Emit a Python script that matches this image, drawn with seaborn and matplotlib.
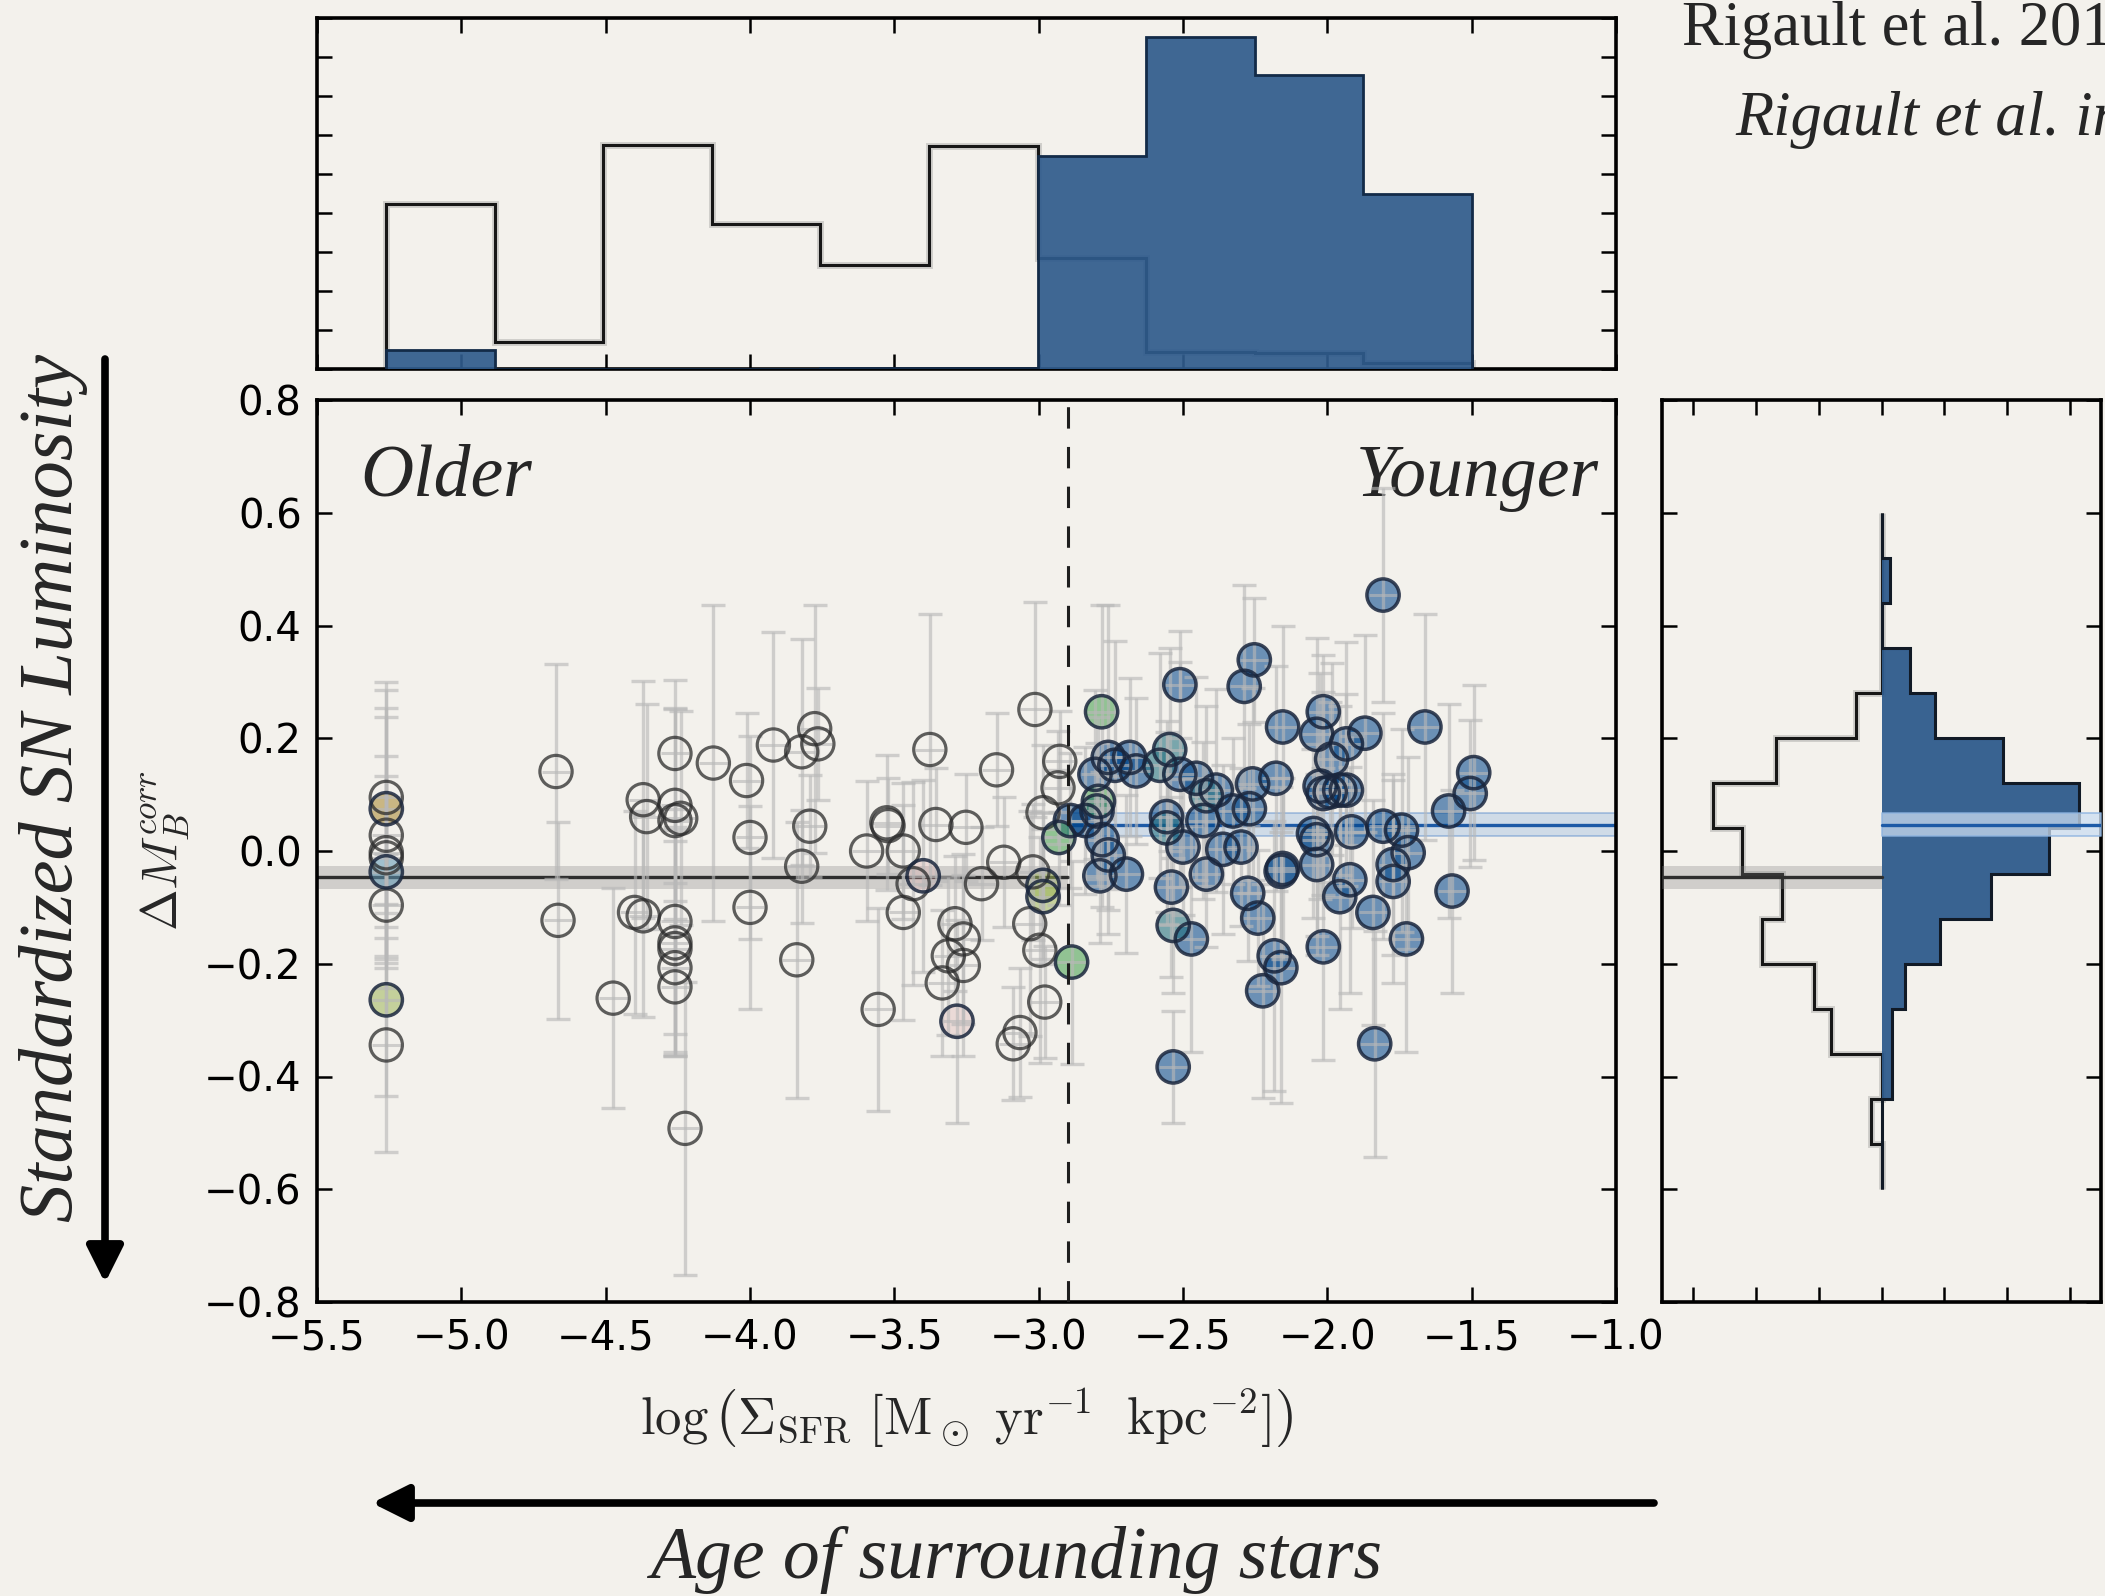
import numpy as np
import pandas as pd
import matplotlib
matplotlib.use("Agg")
import matplotlib.pyplot as plt
import matplotlib.patheffects as pe
from matplotlib.patches import FancyArrowPatch
import seaborn as sns

# ---------------------------------------------------------------- data
# local star-formation surface density (log) of each SN Ia host region
sfr = [
    -5.26, -5.26, -5.26, -5.26, -5.26, -5.26, -5.26, -5.26, -5.26,
    -4.672, -4.665, -4.474, -4.370, -4.358, -4.40, -4.37,
    -4.26, -4.26, -4.24, -4.26, -4.26, -4.26, -4.26, -4.26, -4.26,
    -4.225, -4.127, -4.012, -4.00, -4.00, -3.919, -3.821, -3.776, -3.765,
    -3.793, -3.821, -3.838, -3.596, -3.526, -3.522, -3.469, -3.435, -3.40,
    -3.469, -3.556, -3.377, -3.356, -3.252, -3.29, -3.261, -3.313, -3.261,
    -3.334, -3.283, -3.198, -3.146, -3.121, -3.013, -2.927, -2.933, -2.985,
    -3.02, -2.985, -2.985, -3.031, -2.996, -2.979, -3.065, -3.088, -2.93,
    -2.886,
    # star-forming side
    -2.782, -2.759, -2.736, -2.685, -2.662, -2.805, -2.793, -2.89, -2.838,
    -2.798, -2.78, -2.759, -2.788, -2.696, -2.58, -2.546, -2.511, -2.557,
    -2.557, -2.50, -2.54, -2.534, -2.471, -2.534, -2.511, -2.454, -2.419,
    -2.385, -2.431, -2.419, -2.362, -2.327, -2.299, -2.288, -2.253, -2.259,
    -2.27, -2.276, -2.241, -2.178, -2.155, -2.155, -2.16, -2.184, -2.161,
    -2.224, -2.014, -2.037, -1.985, -2.025, -2.014, -1.99, -2.048, -2.037,
    -2.037, -2.014, -1.807, -1.870, -1.934, -1.957, -1.934, -1.916, -1.922,
    -1.957, -1.842, -1.807, -1.743, -1.72, -1.772, -1.772, -1.726, -1.836,
    -1.662, -1.58, -1.505, -1.493, -1.568,
]

# Hubble residual after standardisation
dm = [
    0.095, 0.075, 0.028, -0.003, -0.012, -0.037, -0.096, -0.264, -0.344,
    0.141, -0.123, -0.261, 0.091, 0.061, -0.109, -0.115,
    0.173, 0.081, 0.058, 0.054, -0.125, -0.163, -0.173, -0.207, -0.241,
    -0.492, 0.156, 0.125, 0.024, -0.10, 0.188, 0.176, 0.217, 0.19,
    0.044, -0.027, -0.193, 0.0, 0.05, 0.045, 0.0, -0.058, -0.044,
    -0.109, -0.281, 0.18, 0.047, 0.042, -0.129, -0.156, -0.186, -0.203,
    -0.234, -0.302, -0.058, 0.144, -0.02, 0.251, 0.159, 0.112, 0.068,
    -0.037, -0.061, -0.081, -0.129, -0.176, -0.268, -0.322, -0.342, 0.024,
    -0.197,
    0.247, 0.166, 0.152, 0.166, 0.142, 0.136, 0.088, 0.054, 0.054,
    0.071, 0.02, -0.007, -0.044, -0.041, 0.152, 0.18, 0.295, 0.061,
    0.041, 0.007, -0.064, -0.132, -0.156, -0.383, 0.136, 0.129, 0.098,
    0.108, 0.054, -0.041, 0.003, 0.071, 0.007, 0.292, 0.339, 0.119,
    0.075, -0.075, -0.119, 0.129, 0.22, -0.031, -0.036, -0.186, -0.207,
    -0.248, 0.247, 0.207, 0.163, 0.115, 0.102, 0.105, 0.031, 0.02,
    -0.024, -0.17, 0.454, 0.209, 0.19, 0.108, 0.108, 0.034, -0.051,
    -0.081, -0.109, 0.044, 0.037, -0.003, -0.024, -0.054, -0.156, -0.342,
    0.22, 0.071, 0.102, 0.139, -0.071,
]

dm_err = [
    0.205, 0.21, 0.226, 0.24, 0.18, 0.17, 0.09, 0.17, 0.19,
    0.19, 0.175, 0.195, 0.21, 0.20, 0.18, 0.18,
    0.13, 0.17, 0.19, 0.20, 0.20, 0.20, 0.19, 0.15, 0.12,
    0.26, 0.28, 0.12, 0.18, 0.18, 0.20, 0.20, 0.22, 0.10,
    0.09, 0.10, 0.245, 0.125, 0.12, 0.085, 0.12, 0.18, 0.17,
    0.19, 0.18, 0.24, 0.10, 0.095, 0.12, 0.15, 0.14, 0.16,
    0.13, 0.18, 0.10, 0.10, 0.115, 0.19, 0.09, 0.10, 0.12,
    0.12, 0.13, 0.12, 0.20, 0.20, 0.10, 0.115, 0.10, 0.12,
    0.18,
    0.19, 0.27, 0.22, 0.14, 0.13, 0.15, 0.15, 0.12, 0.13,
    0.12, 0.12, 0.14, 0.12, 0.14, 0.20, 0.18, 0.095, 0.17,
    0.17, 0.12, 0.16, 0.12, 0.20, 0.10, 0.20, 0.18, 0.16,
    0.18, 0.14, 0.13, 0.15, 0.13, 0.14, 0.18, 0.11, 0.17,
    0.15, 0.12, 0.12, 0.20, 0.18, 0.16, 0.15, 0.24, 0.24,
    0.19, 0.10, 0.17, 0.17, 0.20, 0.18, 0.16, 0.15, 0.17,
    0.16, 0.20, 0.19, 0.175, 0.18, 0.15, 0.17, 0.17, 0.20,
    0.20, 0.20, 0.20, 0.18, 0.17, 0.16, 0.18, 0.20, 0.20,
    0.20, 0.19, 0.13, 0.155, 0.18,
]

# colour class of each SN (probability of lying in a star-forming region)
kind = (
    ["old", "tan", "old", "old", "old", "sky", "old", "lime", "old"]
    + ["old"] * 33
    + ["rose"]
    + ["old"] * 10
    + ["rose"]
    + ["old"] * 8
    + ["lime", "lime"]
    + ["old"] * 5
    + ["green", "green"]
    + ["green", "young", "young", "young", "young", "young", "green", "young", "young",
       "young", "young", "young", "young", "young", "teal", "teal", "young", "young",
       "teal", "young", "young", "teal", "young", "young", "young", "young", "teal"]
    + ["young"] * 50
)

sfr_err = 0.05  # typical uncertainty on log(Sigma_SFR)

# weighted histograms along log(Sigma_SFR)
sfr_edges = [-5.26, -4.884, -4.508, -4.132, -3.756, -3.38, -3.004,
             -2.628, -2.252, -1.876, -1.5]
sfr_hist_old = [4.23, 0.68, 5.74, 3.72, 2.67, 5.72, 2.84, 0.43, 0.41, 0.15]
sfr_hist_young = [0.48, 0.0, 0.0, 0.0, 0.02, 0.02, 5.46, 8.52, 7.54, 4.48]

# weighted histograms of the residuals
dm_edges = [-0.6, -0.52, -0.44, -0.36, -0.28, -0.2, -0.12, -0.04,
            0.04, 0.12, 0.2, 0.28, 0.36, 0.44, 0.52, 0.6]
dm_hist_old = [0, 0.17, 0, 0.80, 1.07, 1.91, 1.58, 2.22, 2.69, 1.69,
               0.40, 0, 0, 0, 0]
dm_hist_young = [0, 0, 0.16, 0.16, 0.37, 0.93, 1.74, 2.67, 3.15, 1.94,
                 0.85, 0.45, 0, 0.14, 0]

sfr_split = -2.9
old_mean, old_mean_err = -0.047, 0.02
young_mean, young_mean_err = 0.047, 0.02

df = pd.DataFrame({"sfr": sfr, "dm": dm, "dm_err": dm_err, "kind": kind})

# ---------------------------------------------------------------- style
PAPER = "#F3F1EC"
HIST_BLUE = "#2F5B8C"
sns.set_theme(style="ticks")
plt.rcParams.update({
    "font.family": ["DejaVu Sans"],
    "mathtext.fontset": "cm",
    "figure.facecolor": PAPER,
    "axes.facecolor": "none",
    "axes.edgecolor": "black",
    "axes.linewidth": 2.6,
    "xtick.direction": "in",
    "ytick.direction": "in",
    "xtick.top": True,
    "ytick.right": True,
    "xtick.major.size": 11,
    "ytick.major.size": 11,
    "xtick.major.width": 1.8,
    "ytick.major.width": 1.8,
    "xtick.color": "black",
    "ytick.color": "black",
    "xtick.labelsize": 29,
    "ytick.labelsize": 29,
    "xtick.major.pad": 12,
    "ytick.major.pad": 11,
})
SERIF = ["Liberation Serif", "DejaVu Serif"]

face = {
    "young": (0.00, 0.27, 0.54, 0.56),
    "teal": (0.10, 0.42, 0.48, 0.56),
    "green": (0.22, 0.60, 0.26, 0.52),
    "lime": (0.60, 0.70, 0.32, 0.52),
    "tan": (0.66, 0.53, 0.18, 0.55),
    "sky": (0.36, 0.59, 0.71, 0.55),
    "rose": (0.86, 0.66, 0.66, 0.30),
}
edge = {"old": (0.17, 0.17, 0.17, 0.75)}
EDGE_FILLED = (0.10, 0.15, 0.24, 0.85)
MS = 540

W, H = 2105, 1596
fig = plt.figure(figsize=(W / 100, H / 100), dpi=100)
ax = fig.add_axes([317 / W, 1 - 1302 / H, 1299 / W, 902 / H])
axt = fig.add_axes([317 / W, 1 - 369 / H, 1299 / W, 351 / H])
axr = fig.add_axes([1662 / W, 1 - 1302 / H, 439 / W, 902 / H])

# ---------------------------------------------------------------- main panel
# mean residual of each population with its uncertainty band
ax.fill_between([-5.5, sfr_split], old_mean - old_mean_err, old_mean + old_mean_err,
                color=(0.5, 0.5, 0.5, 0.30), lw=0, zorder=2)
ax.plot([-5.5, sfr_split], [old_mean, old_mean], color="#2e2e2e", lw=2.4, zorder=2)
ax.fill_between([sfr_split, -1.0], young_mean - young_mean_err, young_mean + young_mean_err,
                facecolor=(0.55, 0.70, 0.88, 0.35), edgecolor=(0.35, 0.55, 0.80, 0.5),
                lw=1.2, zorder=2)
ax.plot([sfr_split, -1.0], [young_mean, young_mean], color="#1d5aa6", lw=2.4, zorder=2)

# translucent marker faces
for k, rgba in face.items():
    sub = df[df["kind"] == k]
    if len(sub):
        sns.scatterplot(data=sub, x="sfr", y="dm", ax=ax, s=MS, facecolor=rgba,
                        edgecolor="none", linewidth=0, zorder=3, legend=False)

# error bars sit above the faces
ERR = (0.72, 0.72, 0.72, 0.62)
ax.errorbar(df["sfr"], df["dm"], yerr=df["dm_err"], fmt="none",
            ecolor=ERR, elinewidth=2.4, capsize=8.3, capthick=2.4, zorder=4)
ax.errorbar(df["sfr"], df["dm"], xerr=sfr_err, fmt="none",
            ecolor=ERR, elinewidth=2.2, capsize=0, zorder=4)

# marker outlines on top
old = df[df["kind"] == "old"]
sns.scatterplot(data=old, x="sfr", y="dm", ax=ax, s=MS, facecolor="none",
                edgecolor=edge["old"], linewidth=2.3, zorder=5, legend=False)
filled = df[df["kind"] != "old"]
sns.scatterplot(data=filled, x="sfr", y="dm", ax=ax, s=MS, facecolor="none",
                edgecolor=EDGE_FILLED, linewidth=2.5, zorder=5, legend=False)

ax.axvline(sfr_split, color="#1e1e1e", lw=2.2, ls=(0, (7, 6)), zorder=6)

ax.set_xlim(-5.5, -1.0)
ax.set_ylim(-0.8, 0.8)
ax.set_xticks(np.arange(-5.5, -0.99, 0.5))
ax.set_yticks(np.arange(-0.8, 0.81, 0.2))
ax.set_xticklabels([f"\u2212{abs(v):.1f}" for v in np.arange(-5.5, -0.99, 0.5)])
ax.set_yticklabels([(f"\u2212{abs(v):.1f}" if v < -1e-9 else f"{abs(v):.1f}")
                    for v in np.arange(-0.8, 0.81, 0.2)])
ax.set_xlabel(r"$\log\left(\Sigma_{\rm SFR}\ [\rm M_\odot\ yr^{-1}\ \ kpc^{-2}]\right)$",
              fontsize=38)
ax.xaxis.set_label_coords(0.5, -(1418 - 1302) / 902)
ax.xaxis.label.set_va("center")
ax.set_ylabel(r"$\Delta M_B^{corr}$", fontsize=36)
ax.yaxis.set_label_coords((165 - 317) / 1299, 0.5)
ax.yaxis.label.set_va("center")

ax.text(-5.35, 0.63, "Older", family=SERIF, style="italic", fontsize=53,
        va="baseline", ha="left")
ax.text(-1.06, 0.63, "Younger", family=SERIF, style="italic", fontsize=53,
        va="baseline", ha="right")

# ---------------------------------------------------------------- top histogram
halo = [pe.withStroke(linewidth=5, foreground=(0.4, 0.4, 0.4, 0.25))]
axt.stairs(sfr_hist_old, sfr_edges, baseline=0, fill=False, color="#161616",
           lw=2.2, path_effects=halo, zorder=2)
axt.stairs(sfr_hist_young, sfr_edges, baseline=0, fill=True,
           facecolor=HIST_BLUE, alpha=0.92, zorder=3)
axt.stairs(sfr_hist_young, sfr_edges, baseline=0, fill=False, color="#132b48",
           lw=2.0, zorder=3)
axt.set_xlim(-5.5, -1.0)
axt.set_ylim(0, 9)
axt.set_xticks(np.arange(-5.5, -0.99, 0.5))
axt.set_yticks(np.arange(0, 9.1, 1))
axt.tick_params(labelbottom=False, labelleft=False)

# ---------------------------------------------------------------- side histogram
axr.fill_between([-3.5, 0], old_mean - old_mean_err, old_mean + old_mean_err,
                 color=(0.5, 0.5, 0.5, 0.30), lw=0, zorder=4)
axr.plot([-3.5, 0], [old_mean, old_mean], color="#2e2e2e", lw=2.4, zorder=4)
axr.stairs(-np.array(dm_hist_old), dm_edges, baseline=0, orientation="horizontal",
           fill=False, color="#161616", lw=2.2, path_effects=halo, zorder=2)
axr.stairs(dm_hist_young, dm_edges, baseline=0, orientation="horizontal",
           fill=True, facecolor=HIST_BLUE, alpha=0.95, zorder=2)
axr.stairs(dm_hist_young, dm_edges, baseline=0, orientation="horizontal",
           fill=False, color="#111a26", lw=2.2, zorder=3)
axr.fill_between([0, 3.5], young_mean - young_mean_err, young_mean + young_mean_err,
                 facecolor=(0.80, 0.87, 0.95, 0.75), edgecolor=(0.55, 0.70, 0.88, 0.8),
                 lw=1.2, zorder=4)
axr.plot([0, 3.5], [young_mean, young_mean], color="#1d5aa6", lw=2.4, zorder=4)
axr.set_xlim(-3.5, 3.5)
axr.set_ylim(-0.8, 0.8)
axr.set_xticks(np.arange(-3, 3.1, 1))
axr.set_yticks(np.arange(-0.8, 0.81, 0.2))
axr.tick_params(labelbottom=False, labelleft=False)

# ---------------------------------------------------------------- annotations
fig.text(54 / W, 1 - 788 / H, "Standardized SN Luminosity", rotation=90,
         ha="center", va="center", family=SERIF, style="italic", fontsize=55)
fig.add_artist(FancyArrowPatch((105 / W, 1 - 359 / H), (105 / W, 1 - 1283 / H),
                               transform=fig.transFigure,
                               arrowstyle="-|>,head_length=1.0,head_width=0.5",
                               mutation_scale=22, lw=5.5, color="black",
                               shrinkA=0, shrinkB=0))
fig.text(1016 / W, 1 - 1578 / H, "Age of surrounding stars", ha="center",
         va="baseline", family=SERIF, style="italic", fontsize=53)
fig.add_artist(FancyArrowPatch((1654 / W, 1 - 1503 / H), (372 / W, 1 - 1503 / H),
                               transform=fig.transFigure,
                               arrowstyle="-|>,head_length=1.0,head_width=0.5",
                               mutation_scale=22, lw=5.5, color="black",
                               shrinkA=0, shrinkB=0))
fig.text(1682 / W, 1 - 45 / H, "Rigault et al. 2013", ha="left", va="baseline",
         family=SERIF, fontsize=45)
fig.text(1735 / W, 1 - 135 / H, "Rigault et al. in prep.", ha="left",
         va="baseline", family=SERIF, style="italic", fontsize=45)

fig.savefig("out.png", dpi=100, facecolor=PAPER)
